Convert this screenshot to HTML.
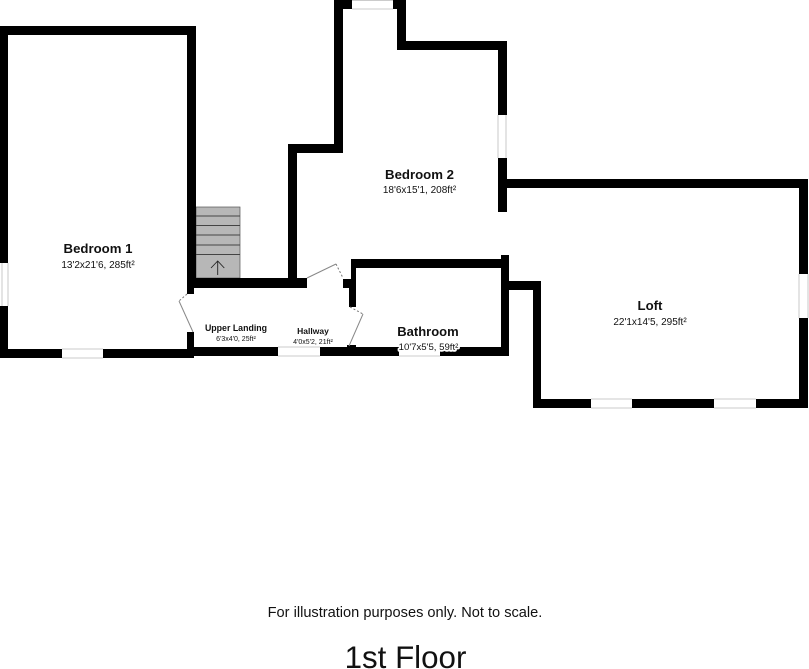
<!DOCTYPE html>
<html><head><meta charset="utf-8"><style>
html,body{margin:0;padding:0;background:#fff}
svg{display:block}
text{font-family:"Liberation Sans",Arial,sans-serif;fill:#111;text-anchor:middle}
.t{font-weight:bold}
.s{font-weight:normal}
</style></head><body>
<svg width="809" height="669" viewBox="0 0 809 669" xmlns="http://www.w3.org/2000/svg">
<rect width="809" height="669" fill="#fff"/>
<!-- stairs -->
<rect x="196" y="207" width="44" height="71" fill="#b7b7b7" stroke="#555" stroke-width="0.7"/>
<g stroke="#444" stroke-width="1"><line x1="196" x2="240" y1="216" y2="216"/><line x1="196" x2="240" y1="225.5" y2="225.5"/><line x1="196" x2="240" y1="235" y2="235"/><line x1="196" x2="240" y1="245" y2="245"/><line x1="196" x2="240" y1="254.5" y2="254.5"/></g>
<path d="M217.7 275V261M211 268L217.7 261L224.3 268" fill="none" stroke="#222" stroke-width="0.9"/>
<!-- walls -->
<g fill="#000">
<!-- bedroom 1 -->
<rect x="0" y="26" width="196" height="9"/>
<rect x="0" y="26" width="8" height="237"/>
<rect x="0" y="306" width="8" height="52"/>
<rect x="0" y="349" width="62" height="9"/>
<rect x="103" y="349" width="91" height="9"/>
<rect x="187" y="26" width="9" height="262"/>
<rect x="187" y="278" width="120" height="10"/>
<rect x="187" y="286" width="7" height="8"/>
<rect x="187" y="332" width="7" height="26"/>
<!-- hallway bottom -->
<rect x="187" y="347" width="91" height="9"/>
<rect x="320" y="347" width="79" height="9"/>
<rect x="440" y="347" width="69" height="9"/>
<rect x="347" y="345" width="9" height="11"/>
<!-- bedroom 2 -->
<rect x="288" y="144" width="9" height="144"/>
<rect x="288" y="144" width="55" height="9"/>
<rect x="334" y="0" width="9" height="153"/>
<rect x="334" y="0" width="18" height="9"/>
<rect x="393" y="0" width="13" height="9"/>
<rect x="397" y="0" width="9" height="50"/>
<rect x="397" y="41" width="110" height="9"/>
<rect x="498" y="41" width="9" height="74"/>
<rect x="498" y="158" width="9" height="54"/>
<!-- bathroom -->
<rect x="351" y="259" width="156" height="9"/>
<rect x="351" y="259" width="5" height="30"/>
<rect x="343" y="279" width="13" height="9"/>
<rect x="349" y="288" width="7" height="19"/>
<rect x="501" y="255" width="8" height="101"/>
<!-- loft -->
<rect x="507" y="179" width="301" height="9"/>
<rect x="799" y="179" width="9" height="95"/>
<rect x="799" y="318" width="9" height="90"/>
<rect x="509" y="281" width="32" height="9"/>
<rect x="533" y="281" width="8" height="127"/>
<rect x="533" y="399" width="58" height="9"/>
<rect x="632" y="399" width="82" height="9"/>
<rect x="756" y="399" width="52" height="9"/>
</g>
<!-- window edges -->
<g stroke="#bbb" stroke-width="0.8" fill="none">
<path d="M2 263V306M8 263V306"/>
<path d="M62 349H103M62 358H103"/>
<path d="M278 347H320M278 356H320"/>
<path d="M399 356H440"/>
<path d="M352 9H393M352 0.5H393"/>
<path d="M498 115V158M506 115V158"/>
<path d="M799 274V318M808 274V318"/>
<path d="M591 399H632M591 408H632M714 399H756M714 408H756"/>
</g>
<!-- doors -->
<g fill="none" stroke="#888" stroke-width="1">
<path d="M193 332L179 301"/>
<path d="M307 278L336 264"/>
<path d="M363 314L349 346"/>
</g>
<g fill="none" stroke="#777" stroke-width="1" stroke-dasharray="2 2">
<path d="M187 294L179 301"/>
<path d="M336 264L343 278"/>
<path d="M350 307L363 314"/>
</g>
<!-- labels -->
<text class="t" x="98" y="253" font-size="13.2">Bedroom 1</text>
<text class="s" x="98" y="268" font-size="10">13'2x21'6, 285ft²</text>
<text class="t" x="419.5" y="179" font-size="13.2">Bedroom 2</text>
<text class="s" x="419.5" y="193" font-size="10">18'6x15'1, 208ft²</text>
<text class="t" x="650" y="310" font-size="13.2">Loft</text>
<text class="s" x="650" y="325" font-size="10">22'1x14'5, 295ft²</text>
<text class="t" x="236" y="331" font-size="8.8">Upper Landing</text>
<text class="s" x="236" y="341" font-size="7">6'3x4'0, 25ft²</text>
<text class="t" x="313" y="334" font-size="8.5">Hallway</text>
<text class="s" x="313" y="344" font-size="7">4'0x5'2, 21ft²</text>
<text class="t" x="428" y="336" font-size="13">Bathroom</text>
<text class="s" x="428.5" y="350" font-size="9.6" style="stroke:#fff;stroke-width:3.5;paint-order:stroke;stroke-linejoin:round">10'7x5'5, 59ft²</text>
<text x="405" y="617" font-size="14.6">For illustration purposes only. Not to scale.</text>
<text x="405.5" y="668" font-size="31.3">1st Floor</text>
</svg>
</body></html>
